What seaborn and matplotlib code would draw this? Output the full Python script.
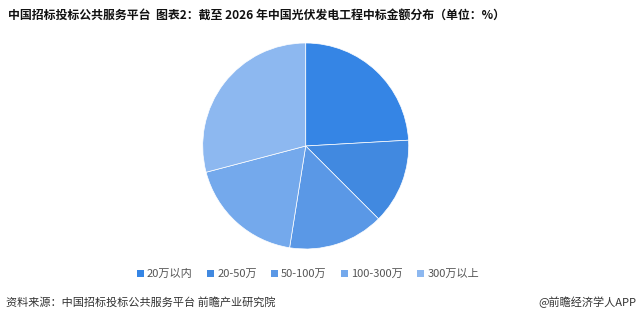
import matplotlib
matplotlib.use("Agg")
import matplotlib.pyplot as plt
import seaborn as sns
from matplotlib.patches import Patch

categories = ["20万以内", "20-50万", "50-100万", "100-300万", "300万以上"]
values = [24.1, 13.4, 15.0, 18.4, 29.1]
colors = ["#3585E5", "#4189E0", "#5A98E6", "#74A9EC", "#8DB8F0"]

title = "中国招标投标公共服务平台  图表2：截至 2026 年中国光伏发电工程中标金额分布（单位：%）"
source = "资料来源：中国招标投标公共服务平台 前瞻产业研究院"
brand = "@前瞻经济学人APP"

sns.set_theme(style="white")
plt.rcParams['font.family'] = ['Noto Sans CJK SC', 'DejaVu Sans']

W, H = 641, 316
fig = plt.figure(figsize=(W / 100, H / 100), dpi=100)
fig.patch.set_facecolor("white")

cx, cy, r = 305.7, 146, 103
ax = fig.add_axes([(cx - r) / W, (H - cy - r) / H, 2 * r / W, 2 * r / H])
ax.pie(values, colors=sns.color_palette(colors), startangle=90, counterclock=False,
       radius=1, wedgeprops=dict(edgecolor="white", linewidth=0.5))
ax.set_xlim(-1, 1)
ax.set_ylim(-1, 1)
ax.set_aspect("equal")
ax.axis("off")

fig.text(8 / W, 1 - 15 / H, title, fontsize=8.6, fontweight="bold", color="#111111",
         va="center", ha="left")

handles = [Patch(facecolor=c, edgecolor="none") for c in colors]
fig.legend(handles, categories, loc="center", bbox_to_anchor=(308 / W, 1 - 274 / H),
           ncol=5, frameon=False, fontsize=8, handlelength=0.6, handleheight=0.6,
           handletextpad=0.3, columnspacing=1.3, labelcolor="#555555")

fig.text(6 / W, 1 - 302 / H, source, fontsize=8, color="#333333", va="center", ha="left")
fig.text(636 / W, 1 - 302 / H, brand, fontsize=8, color="#333333", va="center", ha="right")

fig.savefig("out.png", dpi=100, facecolor="white")
